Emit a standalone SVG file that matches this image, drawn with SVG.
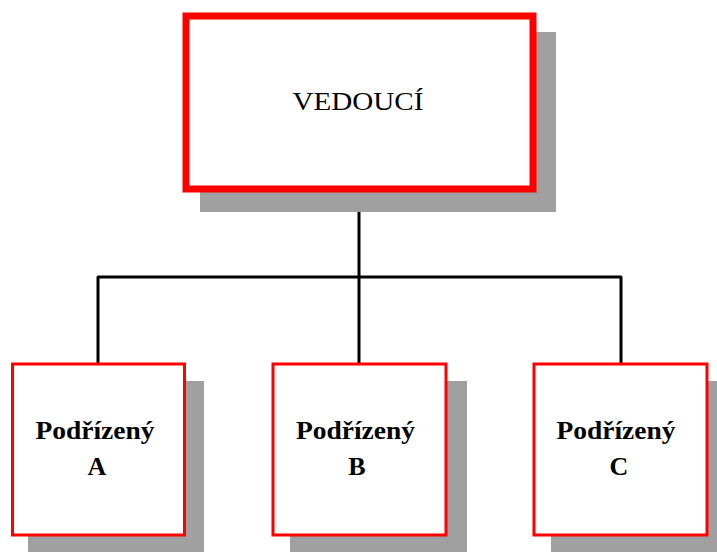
<svg xmlns="http://www.w3.org/2000/svg" width="717" height="552" viewBox="0 0 717 552">
  <style>
    .shadow { fill: #a0a0a0; }
    .box { fill: #ffffff; stroke: #ff0000; }
    .main { stroke-width: 7; }
    .sub { stroke-width: 3; }
    .wire { fill: none; stroke: #000000; stroke-width: 3; stroke-linejoin: round; }
    .t { font-family: "Liberation Serif", "Times New Roman", serif; fill: #000000; text-anchor: middle; }
    .tm { font-size: 25px; }
    .ts { font-size: 26px; font-weight: bold; }
  </style>
  <rect width="717" height="552" fill="#ffffff"/>

  <g id="connectors">
    <path class="wire" d="M359 192 V363"/>
    <path class="wire" d="M98 363 V277 H621 V363"/>
  </g>

  <g id="vedouci">
    <rect class="shadow" x="200" y="32" width="356" height="180"/>
    <rect class="box main" x="186" y="16" width="347" height="173"/>
    <text class="t tm" x="358" y="110" textLength="131" lengthAdjust="spacingAndGlyphs">VEDOUCÍ</text>
  </g>

  <g id="podrizeny-a">
    <rect class="shadow" x="28" y="381" width="176" height="180"/>
    <rect class="box sub" x="12.5" y="364" width="172" height="171"/>
    <text class="t ts" x="95" y="439" textLength="119" lengthAdjust="spacingAndGlyphs">Podřízený</text>
    <text class="t ts" x="97" y="475">A</text>
  </g>

  <g id="podrizeny-b">
    <rect class="shadow" x="290" y="381" width="177" height="180"/>
    <rect class="box sub" x="273" y="364" width="173" height="171"/>
    <text class="t ts" x="355.5" y="439" textLength="119" lengthAdjust="spacingAndGlyphs">Podřízený</text>
    <text class="t ts" x="357" y="475">B</text>
  </g>

  <g id="podrizeny-c">
    <rect class="shadow" x="551" y="381" width="177" height="180"/>
    <rect class="box sub" x="534" y="364" width="173" height="171"/>
    <text class="t ts" x="616" y="439" textLength="119" lengthAdjust="spacingAndGlyphs">Podřízený</text>
    <text class="t ts" x="619" y="475">C</text>
  </g>
</svg>
